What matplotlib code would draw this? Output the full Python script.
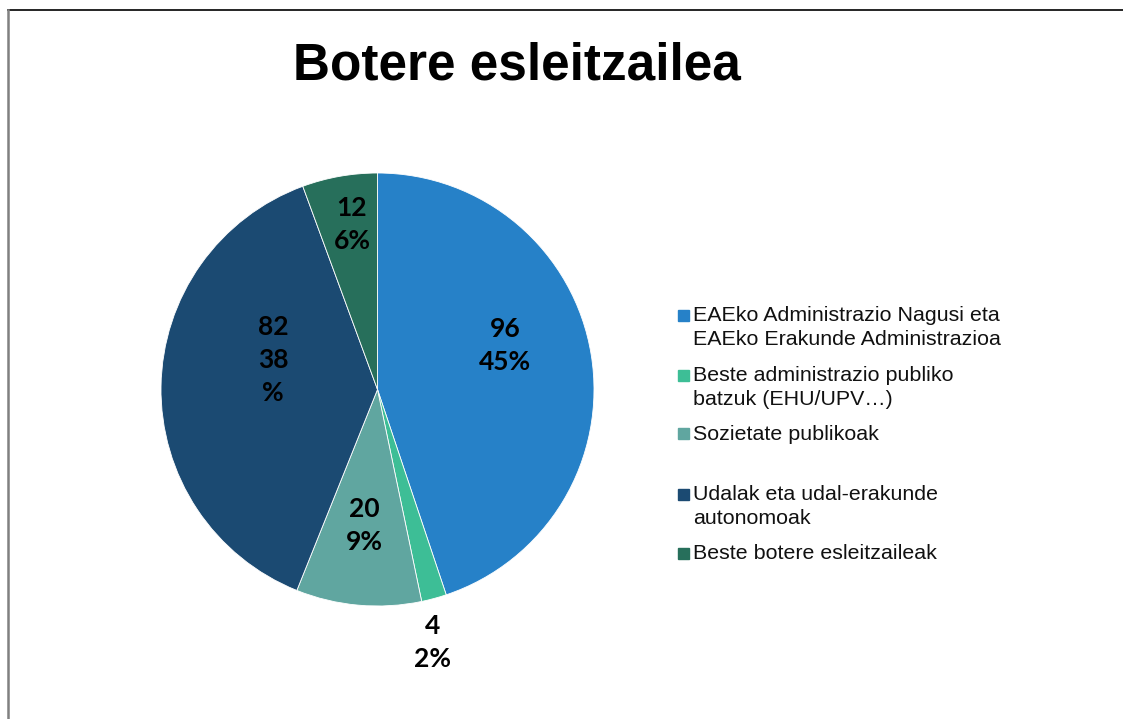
import matplotlib.pyplot as plt
from matplotlib.lines import Line2D
from matplotlib.patches import Rectangle

# data
categories = [
    "EAEko Administrazio Nagusi eta\nEAEko Erakunde Administrazioa",
    "Beste administrazio publiko\nbatzuk (EHU/UPV\u2026)",
    "Sozietate publikoak",
    "Udalak eta udal-erakunde\nautonomoak",
    "Beste botere esleitzaileak",
]
counts = [96, 4, 20, 82, 12]
percent_labels = ["45%", "2%", "9%", "38\n%", "6%"]
colors = ["#2681C8", "#3DBE96", "#60A6A0", "#1B4A72", "#276F5B"]

W, H = 1123, 719
fig = plt.figure(figsize=(W / 100, H / 100), dpi=100)

# pie axes: centre (377.5, 389.5) px, radius 216.5 px
cx, cy, r = 377.5, 389.5, 216.5
ax = fig.add_axes([(cx - r) / W, (H - cy - r) / H, 2 * r / W, 2 * r / H])
wedges, _ = ax.pie(counts, colors=colors, startangle=90, counterclock=False,
                   radius=1, wedgeprops=dict(edgecolor="white", linewidth=0.6))
ax.set_xlim(-1, 1)
ax.set_ylim(-1, 1)
ax.set_aspect("equal")
ax.axis("off")

# data label positions (Excel best fit), in pie units
label_pos = [(0.589, 0.205), (0.256, -1.170), (-0.062, -0.628),
             (-0.483, 0.136), (-0.118, 0.760)]
for (x, y), n, p in zip(label_pos, counts, percent_labels):
    ax.text(x, y, f"{n}\n{p}", ha="center", va="center", fontsize=19,
            fontweight="bold", family="Lato", linespacing=1.45,
            clip_on=False)

# title
fig.text(516.5 / W, 1 - 66 / H, "Botere esleitzailea", ha="center", va="center",
         fontsize=37, fontweight="bold", family="Liberation Sans")

# legend drawn by hand to keep Excel's spacing
legend_y = [315, 375, 434, 494, 553]
for ypx, lab, col in zip(legend_y, categories, colors):
    fig.patches.append(Rectangle((678 / W, 1 - (ypx + 5.5) / H), 11 / W, 11 / H,
                                 transform=fig.transFigure, color=col))
    fig.text(693 / W, 1 - (ypx - 9) / H, lab, ha="left", va="top",
             fontsize=15.4, family="Liberation Sans", color="#111111",
             linespacing=1.32)

# chart frame (partly cropped)
fig.add_artist(Line2D([8 / W, 1], [1 - 10 / H, 1 - 10 / H], color="black",
                      linewidth=1.2, transform=fig.transFigure))
fig.add_artist(Line2D([8 / W, 8 / W], [0, 1 - 10 / H], color="#808080",
                      linewidth=1.8, transform=fig.transFigure))

fig.savefig("out.png", dpi=100)
